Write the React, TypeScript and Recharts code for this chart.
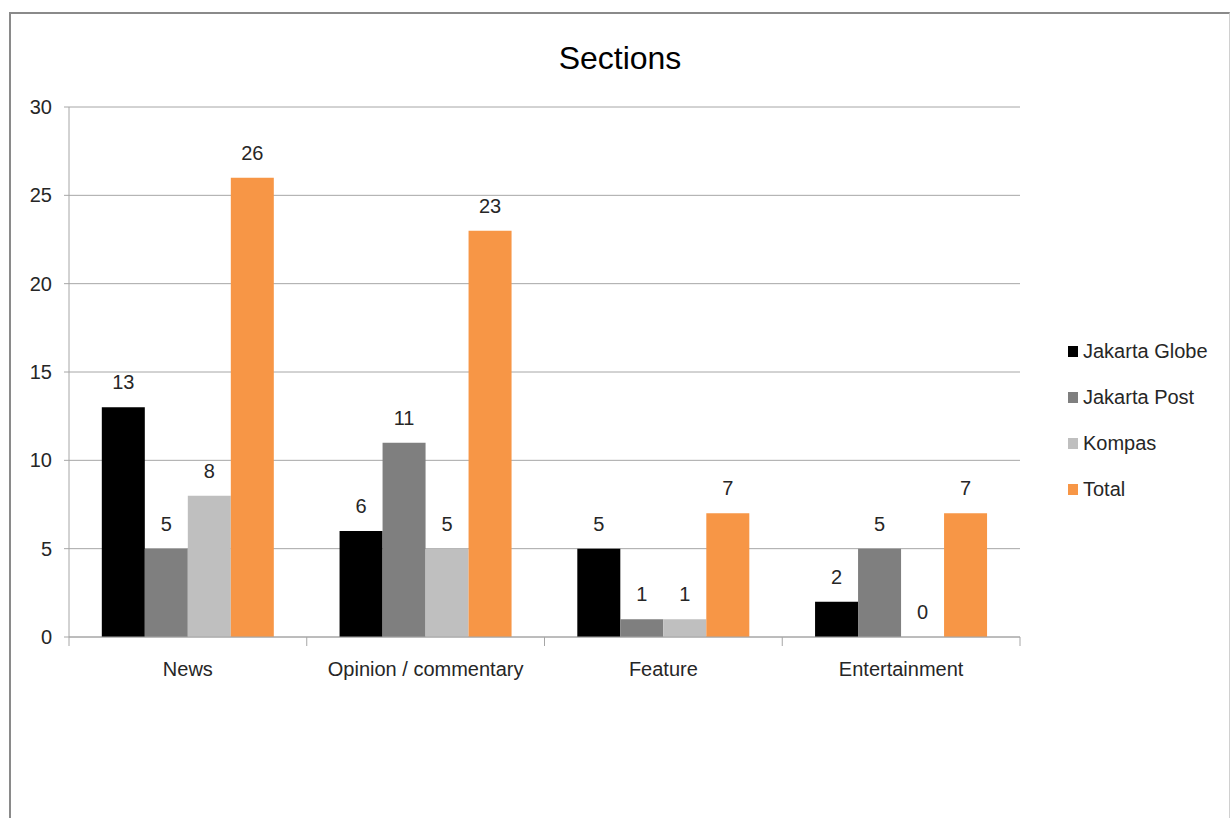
import React from 'react';
import { BarChart, Bar, XAxis, YAxis, CartesianGrid, LabelList } from 'recharts';

const categories = ['News', 'Opinion / commentary', 'Feature', 'Entertainment'];
const jakartaGlobe = [13, 6, 5, 2];
const jakartaPost = [5, 11, 1, 5];
const kompas = [8, 5, 1, 0];
const total = [26, 23, 7, 7];
const yTicks = [0, 5, 10, 15, 20, 25, 30];

const seriesList = [
  { key: 'globe', name: 'Jakarta Globe', values: jakartaGlobe, color: '#000000' },
  { key: 'post', name: 'Jakarta Post', values: jakartaPost, color: '#7f7f7f' },
  { key: 'kompas', name: 'Kompas', values: kompas, color: '#bfbfbf' },
  { key: 'total', name: 'Total', values: total, color: '#f79646' },
];

const data = categories.map((cat, i) => {
  const row: Record<string, string | number> = { category: cat };
  seriesList.forEach((s) => {
    row[s.key] = s.values[i];
  });
  return row;
});

const FONT = "'Liberation Sans', Arial, sans-serif";
const TEXT = '#262626';
const AXIS = '#a6a6a6';
const FS = 20;

const CategoryTick = (props: any) => {
  const { x, y, payload, index, visibleTicksCount } = props;
  const half = payload?.offset ?? 0;
  const axisY = y - 9;
  const isLast = index === (visibleTicksCount ?? categories.length) - 1;
  return (
    <g>
      <line x1={x - half} x2={x - half} y1={axisY} y2={axisY + 9} stroke={AXIS} strokeWidth={1} />
      {isLast && (
        <line x1={x + half} x2={x + half} y1={axisY} y2={axisY + 9} stroke={AXIS} strokeWidth={1} />
      )}
      <text x={x} y={axisY + 39} textAnchor="middle" fill={TEXT} fontSize={FS} fontFamily={FONT}>
        {payload.value}
      </text>
    </g>
  );
};

// Value label above each bar, drawn even when the bar has zero height
const ValueLabel = (props: any) => {
  const { x, y, width, height, value } = props;
  if (value === undefined || value === null) return null;
  const top = Math.min(y, y + height);
  return (
    <text
      x={x + width / 2}
      y={top - 18}
      textAnchor="middle"
      fill={TEXT}
      fontSize={FS}
      fontFamily={FONT}
    >
      {value}
    </text>
  );
};

const SeriesLegend = () => (
  <div
    style={{
      position: 'absolute',
      left: 1068,
      top: 328,
      fontFamily: FONT,
      fontSize: FS,
      color: TEXT,
    }}
  >
    {seriesList.map((s) => (
      <div key={s.key} style={{ display: 'flex', alignItems: 'center', height: 46 }}>
        <span style={{ display: 'inline-block', width: 10, height: 11, background: s.color, marginRight: 5 }} />
        <span>{s.name}</span>
      </div>
    ))}
  </div>
);

export default function App() {
  return (
    <div style={{ position: 'absolute', left: 0, top: 0, width: 1230, height: 818, background: '#ffffff', overflow: 'hidden' }}>
      <div
        style={{
          position: 'absolute',
          left: 9,
          top: 12,
          width: 1218,
          height: 830,
          borderLeft: '2px solid #8a8a8a',
          borderTop: '2px solid #8a8a8a',
          borderRight: '1px solid #d0d0d0',
        }}
      />
      <div
        style={{
          position: 'absolute',
          left: 0,
          top: 40,
          width: 1240,
          textAlign: 'center',
          fontFamily: FONT,
          fontSize: 32,
          color: '#000000',
        }}
      >
        Sections
      </div>
      <div style={{ position: 'absolute', left: 0, top: 0 }}>
        <BarChart
          width={1230}
          height={818}
          data={data}
          margin={{ top: 107, right: 210, bottom: 151, left: 9 }}
          barCategoryGap="13.8%"
          barGap={0}
        >
          <CartesianGrid vertical={false} stroke={AXIS} strokeWidth={1} />
          <XAxis
            dataKey="category"
            height={30}
            axisLine={{ stroke: AXIS }}
            tickLine={false}
            tickSize={9}
            tickMargin={0}
            interval={0}
            tick={<CategoryTick />}
          />
          <YAxis
            width={60}
            domain={[0, 30]}
            ticks={yTicks}
            axisLine={{ stroke: AXIS }}
            tickLine={{ stroke: AXIS }}
            tickSize={5}
            tickMargin={12}
            tick={{ fill: TEXT, fontSize: FS, fontFamily: FONT }}
          />
          {seriesList.map((s) => (
            <Bar
              key={s.key}
              dataKey={s.key}
              name={s.name}
              fill={s.color}
              minPointSize={0.01}
              isAnimationActive={false}
            >
              <LabelList dataKey={s.key} content={<ValueLabel />} />
            </Bar>
          ))}
        </BarChart>
      </div>
      <SeriesLegend />
    </div>
  );
}
